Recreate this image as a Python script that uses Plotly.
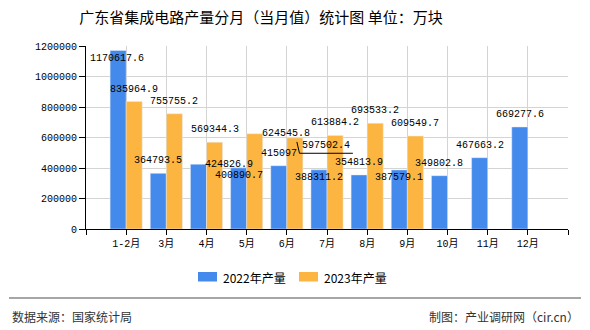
import plotly.graph_objects as go

categories = ["1-2月", "3月", "4月", "5月", "6月", "7月", "8月", "9月", "10月", "11月", "12月"]
prod_2022 = [1170617.6, 364793.5, 424826.9, 400890.7, 415097, 388311.2, 354813.9, 387579.1, 349802.8, 467663.2, 669277.6]
prod_2023 = [835964.9, 755755.2, 569344.3, 624545.8, 597502.4, 613884.2, 693533.2, 609549.7]
series_names = ["2022年产量", "2023年产量"]
y_ticks = [0, 200000, 400000, 600000, 800000, 1000000, 1200000]

title_text = "广东省集成电路产量分月（当月值）统计图 单位：万块"
source_text = "数据来源：国家统计局"
maker_text = "制图：产业调研网（cir.cn）"

# label placement tweaks (pixels): index -> (xshift, yshift)
shift_2022 = {0: (-1, -8.5), 2: (31, 0), 3: (0, -8), 5: (0, -8), 7: (0, -8)}
shift_2023 = {3: (31, 0), 4: (31, -8)}

BLUE = "#448AEC"
ORANGE = "#FDB541"
COLORS = [BLUE, ORANGE]
MONO = "Liberation Mono, Noto Sans CJK SC, monospace"
CJK = "Noto Sans CJK SC, sans-serif"
BW = 0.4

# plot-area geometry in pixels (for paper-coordinate decorations)
L, R, T, B = 86, 568, 46, 229
def px(x):
    return (x - L) / (R - L)
def py(y):
    return (B - y) / (B - T)

x22 = list(range(len(prod_2022)))
x23 = list(range(len(prod_2023)))

fig = go.Figure()
fig.add_trace(go.Bar(x=x22, y=prod_2022, name=series_names[0], marker_color=BLUE,
                     offset=-BW, width=BW, hoverinfo="skip", showlegend=False))
fig.add_trace(go.Bar(x=x23, y=prod_2023, name=series_names[1], marker_color=ORANGE,
                     offset=0, width=BW, hoverinfo="skip", showlegend=False))

annotations = []
def add_labels(xs, vals, center_off, shifts):
    for i, (x, v) in enumerate(zip(xs, vals)):
        dx, dy = shifts.get(i, (0, 12.5))
        txt = f"{v:.1f}" if v != int(v) else f"{int(v)}"
        annotations.append(dict(x=x + center_off, y=v, xref="x", yref="y", text=txt,
                                showarrow=False, xanchor="center", yanchor="middle",
                                xshift=dx, yshift=dy,
                                font=dict(family=MONO, size=10, color="#000")))

add_labels(x22, prod_2022, -BW / 2, shift_2022)
add_labels(x23, prod_2023, BW / 2, shift_2023)

annotations.append(dict(text=source_text, xref="paper", yref="paper", x=px(10), y=py(316),
                        xanchor="left", yanchor="middle", showarrow=False,
                        font=dict(family=CJK, size=12, color="#333")))
annotations.append(dict(text=maker_text, xref="paper", yref="paper", x=px(581), y=py(316),
                        xanchor="right", yanchor="middle", showarrow=False,
                        font=dict(family=CJK, size=12, color="#333")))

shapes = [
    dict(type="line", xref="paper", yref="paper", x0=px(9), x1=px(581),
         y0=py(298), y1=py(298), line=dict(color="#888", width=1.5)),
    # leader line of the moved 6月 label
    dict(type="path", xref="x", yref="y", xsizemode="pixel", ysizemode="pixel",
         xanchor=4 + BW / 2, yanchor=prod_2023[4],
         path="M2,-4 L4.6,-15.4 L58,-15.4", line=dict(color="#000", width=1)),
]

# custom legend (wide colour swatches)
legend_x = [198, 299]
for name, col, lx in zip(series_names, COLORS, legend_x):
    shapes.append(dict(type="rect", xref="paper", yref="paper", x0=px(lx), x1=px(lx + 19),
                       y0=py(281.5), y1=py(272), fillcolor=col, line=dict(width=0)))
    annotations.append(dict(text=name, xref="paper", yref="paper", x=px(lx + 23), y=py(277),
                            xanchor="left", yanchor="middle", showarrow=False,
                            font=dict(family=CJK, size=12, color="#000")))

fig.update_layout(
    width=590, height=330,
    margin=dict(l=L, r=590 - R, t=T, b=330 - B),
    paper_bgcolor="white", plot_bgcolor="white",
    barmode="overlay",
    title=dict(text=title_text, xref="container", yref="container", x=261 / 590, y=1 - 18 / 330,
               xanchor="center", yanchor="middle", font=dict(family=CJK, size=15, color="#000")),
    showlegend=False,
    annotations=annotations,
    shapes=shapes,
    xaxis=dict(range=[-1, 11], tickmode="array", tickvals=list(range(-1, 12)),
               ticktext=[""] + categories + [""], showgrid=True, gridcolor="#d4d4d4", gridwidth=1,
               showline=True, linecolor="#000", linewidth=1, ticks="outside", ticklen=5,
               tickcolor="#000", tickfont=dict(family=MONO, size=10, color="#000"), zeroline=False,
               fixedrange=True),
    yaxis=dict(range=[0, 1200000], tickmode="array", tickvals=y_ticks,
               ticktext=[str(v) for v in y_ticks], showgrid=True, gridcolor="#d4d4d4", gridwidth=1,
               showline=True, linecolor="#000", linewidth=1, ticks="outside", ticklen=6,
               tickcolor="#000", tickfont=dict(family=MONO, size=10, color="#000"), zeroline=False,
               fixedrange=True),
)

fig.write_html("out.html")
